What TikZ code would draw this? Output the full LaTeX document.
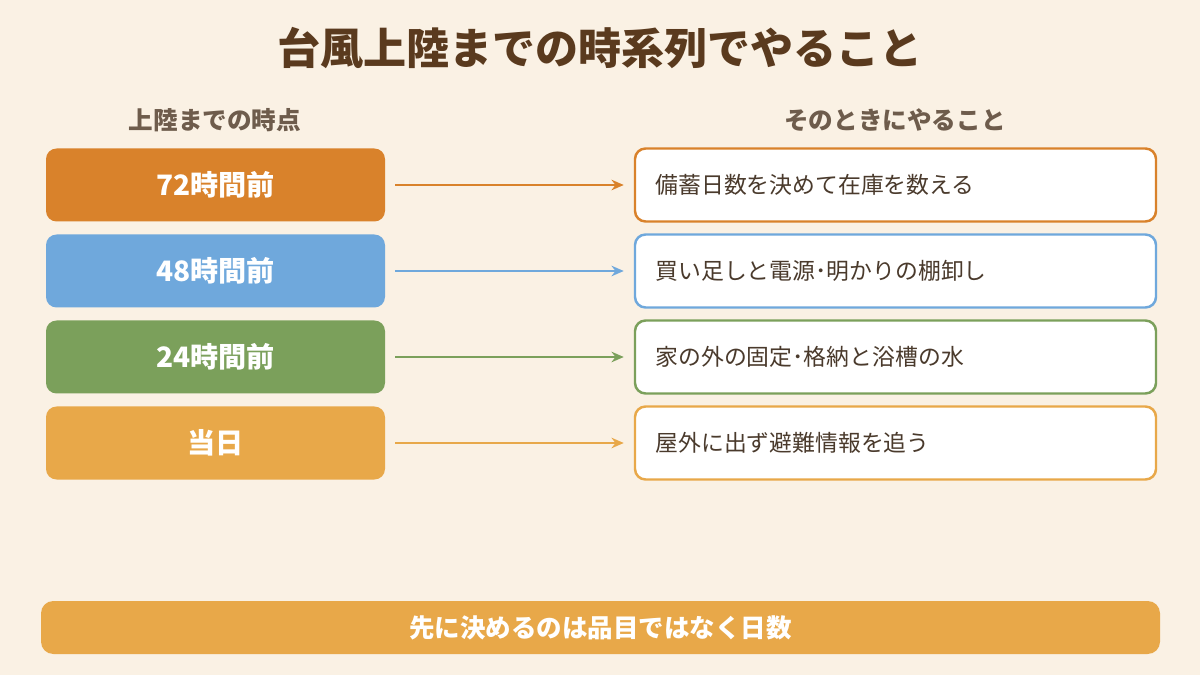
\documentclass[tikz,border=0pt]{standalone}
\usepackage{fontspec}
\setmainfont{Noto Sans CJK JP}
\usetikzlibrary{arrows.meta}
\definecolor{bg}{HTML}{FAF1E4}
\definecolor{ttl}{HTML}{5A3A1E}
\definecolor{hdr}{HTML}{6E5C4C}
\definecolor{txt}{HTML}{4A3A2C}
\definecolor{cA}{HTML}{D9822B}
\definecolor{cB}{HTML}{6FA8DC}
\definecolor{cC}{HTML}{7BA05B}
\definecolor{cD}{HTML}{E8A849}
\begin{document}
\begin{tikzpicture}[x=0.02cm,y=-0.02cm,
  lbox/.style={rounded corners=6pt,minimum width=339*0.02cm,minimum height=73*0.02cm,text=white,font=\fontsize{16}{19}\selectfont\bfseries,inner sep=0},
  rbox/.style={rounded corners=6pt,fill=white,line width=1.4pt,minimum width=521*0.02cm,minimum height=73*0.02cm,text=txt,font=\fontsize{13}{16}\selectfont,inner sep=0,text width=480*0.02cm,align=left},
  arr/.style={line width=1.2pt,-{Stealth[length=7pt,width=6pt]}}]
\fill[bg] (0,0) rectangle (1200,675);
\node[text=ttl,font=\fontsize{24.5}{29}\selectfont\bfseries] (title) at (600,48) {台風上陸までの時系列でやること};
\node[text=hdr,font=\fontsize{14}{17}\selectfont\bfseries] (h1) at (215,120) {上陸までの時点};
\node[text=hdr,font=\fontsize{14}{17}\selectfont\bfseries] (h2) at (895,120) {そのときにやること};
\foreach \i/\y/\c/\l/\r in {a/185/cA/72時間前/備蓄日数を決めて在庫を数える,b/271/cB/48時間前/買い足しと電源･明かりの棚卸し,c/357/cC/24時間前/家の外の固定･格納と浴槽の水,d/443/cD/当日/屋外に出ず避難情報を追う}{
  \node[lbox,fill=\c] (L\i) at (215.5,\y) {\l};
  \node[rbox,draw=\c] (R\i) at (895.5,\y) {\r};
  \draw[arr,draw=\c] (L\i.east)++(10,0) -- ([xshift=-10*0.02cm]R\i.west);
}
\node[fill=cD,rounded corners=7pt,minimum width=1119*0.02cm,minimum height=53*0.02cm,text=white,font=\fontsize{14.5}{17}\selectfont\bfseries] (bot) at (600.5,627.5) {先に決めるのは品目ではなく日数};
\end{tikzpicture}
\end{document}
